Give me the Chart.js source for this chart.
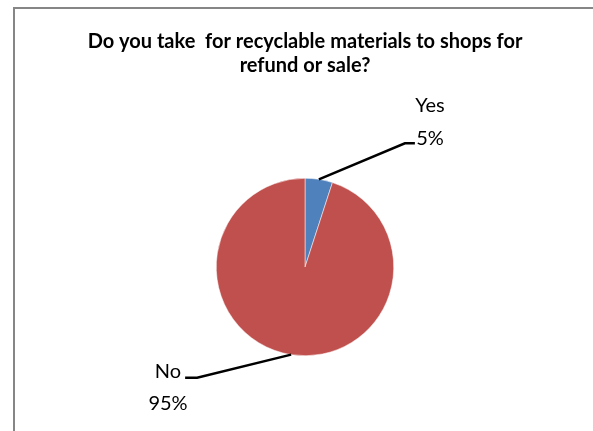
<!DOCTYPE html>
<html>
<head>
<meta charset="utf-8">
<script src="https://cdn.jsdelivr.net/npm/chart.js@4"></script>
<style>
  body { margin: 0; background: #fff; }
  #wrap { position: relative; width: 593px; height: 431px; overflow: hidden; }
  #frame { position: absolute; left: 13px; top: 7px; width: 600px; height: 440px;
           border-left: 2px solid #868686; border-top: 2px solid #868686; box-sizing: border-box; }
  canvas { position: absolute; left: 0; top: 0; }
</style>
</head>
<body>
<div id="wrap">
  <div id="frame"></div>
  <canvas id="pieChart" width="593" height="431"></canvas>
</div>
<script>
// data
const labels = ['Yes', 'No'];
const values = [5, 95];
const colors = ['#4f81bd', '#c0504d'];
const titleLines = ['Do you take  for recyclable materials to shops for', 'refund or sale?'];

// leader line + text placement for each slice (style only)
const labelStyle = [
    { dx: 86, dy: -36, tail: 10, textX: 430, side: 1 },
    { dx: -94, dy: 23, tail: -12, textX: 168, side: -1 }
];

const fontFamily = 'Lato, "Liberation Sans", sans-serif';

// draws Excel-like outside labels with leader lines
const outsideLabels = {
    id: 'outsideLabels',
    afterDatasetsDraw(chart) {
        const ctx = chart.ctx;
        const meta = chart.getDatasetMeta(0);
        const total = values.reduce((a, b) => a + b, 0);
        meta.data.forEach((arc, i) => {
            const p = arc.getProps(['x', 'y', 'startAngle', 'endAngle', 'outerRadius'], true);
            const mid = (p.startAngle + p.endAngle) / 2;
            const ex = p.x + Math.cos(mid) * p.outerRadius;
            const ey = p.y + Math.sin(mid) * p.outerRadius;
            const s = labelStyle[i];
            const bx = ex + s.dx, by = ey + s.dy;
            ctx.save();
            ctx.strokeStyle = '#000';
            ctx.lineWidth = 2.5;
            ctx.beginPath();
            ctx.moveTo(ex, ey);
            ctx.lineTo(bx, by);
            ctx.lineTo(bx + s.tail, by);
            ctx.stroke();
            ctx.fillStyle = '#000';
            ctx.font = '20px ' + fontFamily;
            ctx.textAlign = 'center';
            ctx.textBaseline = 'middle';
            const pct = Math.round(values[i] / total * 100) + '%';
            if (s.side > 0) {
                ctx.fillText(labels[i], s.textX, by - 38);
                ctx.fillText(pct, s.textX, by - 5);
            } else {
                ctx.fillText(labels[i], s.textX, by - 6);
                ctx.fillText(pct, s.textX, by + 26);
            }
            ctx.restore();
        });
    }
};

const pieChart = new Chart(document.getElementById('pieChart'), {
    type: 'pie',
    data: {
        labels: labels,
        datasets: [{
            data: values,
            backgroundColor: colors,
            borderColor: '#ffffff',
            borderWidth: 0.5,
            hoverOffset: 0
        }]
    },
    options: {
        responsive: false,
        animation: false,
        rotation: 0,
        layout: { padding: { left: 17, right: 0, top: 0, bottom: 75 } },
        plugins: {
            legend: { display: false },
            tooltip: { enabled: false },
            title: {
                display: true,
                text: titleLines,
                color: '#000',
                font: { family: fontFamily, size: 20, weight: 'bold', lineHeight: 1.2 },
                padding: { top: 30, bottom: 100 }
            }
        }
    },
    plugins: [outsideLabels]
});
</script>
</body>
</html>
